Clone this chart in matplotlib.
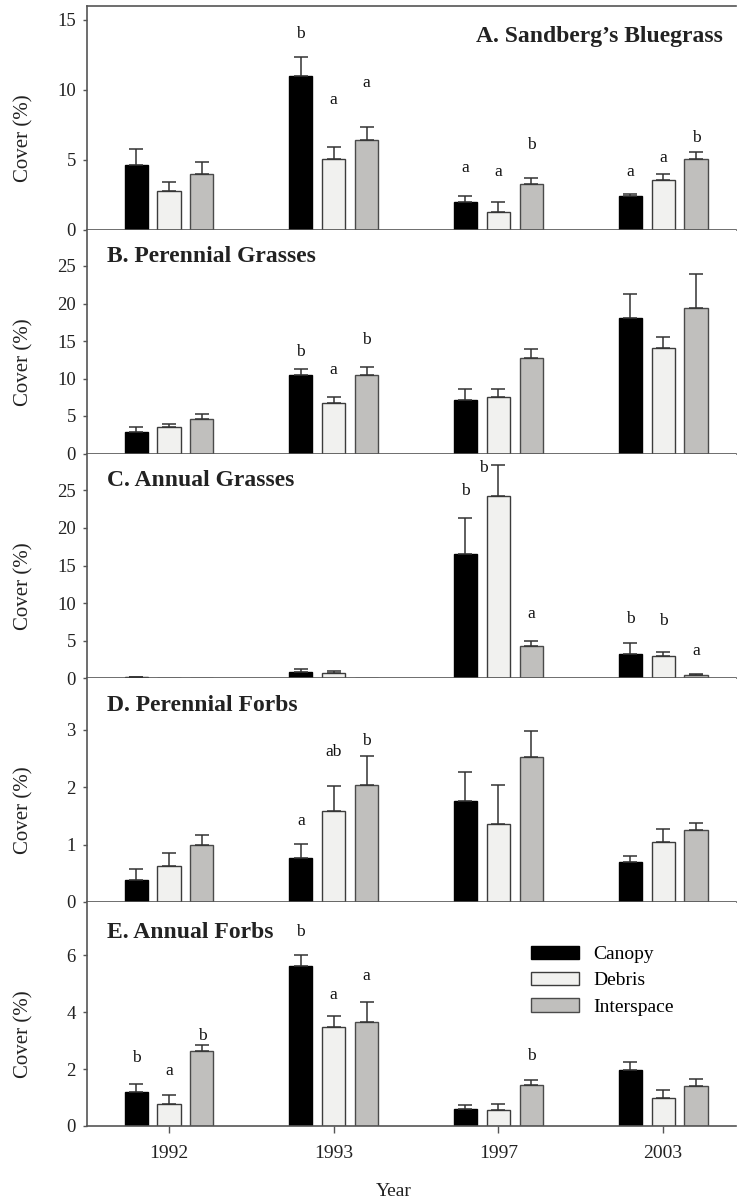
import numpy as np
import matplotlib.pyplot as plt
from matplotlib.patches import Patch

plt.rcParams['font.family'] = ['Liberation Serif', 'DejaVu Serif']

years = ['1992', '1993', '1997', '2003']
series = ['Canopy', 'Debris', 'Interspace']

# A. Sandberg's bluegrass (rows: canopy, debris, interspace)
sandberg_mean = [[4.65, 11.0, 2.02, 2.43],
                 [2.82, 5.08, 1.31, 3.57],
                 [3.98, 6.4, 3.26, 5.07]]
sandberg_se = [[1.15, 1.35, 0.38, 0.17],
               [0.58, 0.85, 0.67, 0.45],
               [0.9, 0.98, 0.43, 0.48]]
sandberg_letters = [(1, 0, 'b'), (1, 1, 'a'), (1, 2, 'a'),
                    (2, 0, 'a'), (2, 1, 'a'), (2, 2, 'b'),
                    (3, 0, 'a'), (3, 1, 'a'), (3, 2, 'b')]

# B. Perennial grasses
pgrass_mean = [[2.93, 10.53, 7.16, 18.04],
               [3.51, 6.67, 7.6, 14.04],
               [4.62, 10.53, 12.71, 19.38]]
pgrass_se = [[0.54, 0.8, 1.42, 3.29],
             [0.45, 0.93, 0.98, 1.56],
             [0.67, 0.94, 1.29, 4.58]]
pgrass_letters = [(1, 0, 'b'), (1, 1, 'a'), (1, 2, 'b')]

# C. Annual grasses
agrass_mean = [[0.18, 0.89, 16.55, 3.2],
               [0.0, 0.67, 24.29, 2.94],
               [0.0, 0.1, 4.27, 0.4]]
agrass_se = [[0.05, 0.31, 4.8, 1.47],
             [0.0, 0.35, 4.05, 0.57],
             [0.0, 0.0, 0.71, 0.13]]
agrass_letters = [(2, 0, 'b'), (2, 1, 'b'), (2, 2, 'a'),
                  (3, 0, 'b'), (3, 1, 'b'), (3, 2, 'a')]

# D. Perennial forbs
pforb_mean = [[0.38, 0.77, 1.76, 0.69],
              [0.63, 1.58, 1.36, 1.04],
              [1.0, 2.04, 2.52, 1.26]]
pforb_se = [[0.2, 0.24, 0.51, 0.11],
            [0.22, 0.44, 0.68, 0.24],
            [0.17, 0.51, 0.46, 0.11]]
pforb_letters = [(1, 0, 'a'), (1, 1, 'ab'), (1, 2, 'b')]

# E. Annual forbs
aforb_mean = [[1.2, 5.62, 0.59, 1.96],
              [0.78, 3.48, 0.55, 1.0],
              [2.64, 3.66, 1.45, 1.41]]
aforb_se = [[0.28, 0.38, 0.15, 0.29],
            [0.31, 0.38, 0.23, 0.28],
            [0.2, 0.69, 0.15, 0.24]]
aforb_letters = [(0, 0, 'b'), (0, 1, 'a'), (0, 2, 'b'),
                 (1, 0, 'b'), (1, 1, 'a'), (1, 2, 'a'),
                 (2, 2, 'b')]

# where the letters sit (data units) and small x nudges
sandberg_lab_y = [14.0, 9.3, 10.5, 4.43, 4.14, 6.07, 4.14, 5.14, 6.57]
pgrass_lab_y = [13.55, 11.1, 15.1]
agrass_lab_y = [24.9, 27.96, 8.58, 7.92, 7.56, 3.68]
agrass_lab_dx = [0, -0.09, 0, 0, 0, 0]
pforb_lab_y = [1.42, 2.61, 2.81]
aforb_lab_y = [2.39, 1.92, 3.15, 6.8, 4.59, 5.27, 2.45]

panels = [
    ("A. Sandberg\u2019s Bluegrass", sandberg_mean, sandberg_se, sandberg_letters,
     sandberg_lab_y, None, 16, [0, 5, 10, 15]),
    ("B. Perennial Grasses", pgrass_mean, pgrass_se, pgrass_letters,
     pgrass_lab_y, None, 29.8, [0, 5, 10, 15, 20, 25]),
    ("C. Annual Grasses", agrass_mean, agrass_se, agrass_letters,
     agrass_lab_y, agrass_lab_dx, 29.9, [0, 5, 10, 15, 20, 25]),
    ("D. Perennial Forbs", pforb_mean, pforb_se, pforb_letters,
     pforb_lab_y, None, 3.9, [0, 1, 2, 3]),
    ("E. Annual Forbs", aforb_mean, aforb_se, aforb_letters,
     aforb_lab_y, None, 7.87, [0, 2, 4, 6]),
]

fills = ['#000000', '#f1f1ef', '#c0bfbd']
edges = ['#000000', '#3c3c3c', '#4a4a4a']
axcol = '#555555'

W, H = 737, 1201
fig = plt.figure(figsize=(W / 100, H / 100), dpi=100)

# panel edges in pixels
left, right = 87, 736
edges_y = [6, 230, 453.5, 678.3, 902, 1126]

x = np.arange(len(years))
width = 0.14
offs = [-0.2, 0.0, 0.2]

axes = []
for i, (title, mean, se, letters, lab_y, lab_dx, ymax, yt) in enumerate(panels):
    top, bot = edges_y[i], edges_y[i + 1]
    ax = fig.add_axes([left / W, 1 - bot / H, (right - left) / W, (bot - top) / H])
    axes.append(ax)
    for s in range(3):
        m = np.array(mean[s])
        e = np.array(se[s])
        ax.bar(x + offs[s], m, width, color=fills[s], edgecolor=edges[s],
               linewidth=1.0, zorder=2)
        keep = e > 0
        ax.errorbar(x[keep] + offs[s], m[keep],
                    yerr=[np.zeros(keep.sum()), e[keep]], fmt='none',
                    ecolor='#333333', elinewidth=1.1, capsize=4.7,
                    capthick=1.1, zorder=3)
    for k, (g, s, txt) in enumerate(letters):
        dx = lab_dx[k] if lab_dx else 0
        ax.text(x[g] + offs[s] + dx, lab_y[k], txt, ha='center', va='center',
                fontsize=12.5, color='#111111')
    if i == 0:
        ax.text(0.98, 0.863, title, transform=ax.transAxes, ha='right',
                va='center', fontsize=17, fontweight='bold', color='#222222')
    else:
        ax.text(0.031, 0.88 if i < 4 else 0.862, title, transform=ax.transAxes,
                ha='left', va='center', fontsize=17, fontweight='bold',
                color='#222222')
    ax.set_xlim(-0.498, 3.443)
    ax.set_ylim(0, ymax)
    ax.set_yticks(yt)
    ax.tick_params(axis='y', direction='out', length=3, width=1, pad=5,
                   labelsize=13.5, colors='#222222')
    ax.tick_params(axis='y', color=axcol)
    ax.spines['right'].set_visible(False)
    if i > 0:
        ax.spines['top'].set_visible(False)
    for sp in ['left', 'bottom', 'top']:
        ax.spines[sp].set_color(axcol)
        ax.spines[sp].set_linewidth(1.2)
    ax.set_ylabel('Cover (%)', fontsize=15, color='#222222')
    ax.yaxis.set_label_coords(-0.083, 0.41)
    if i < 4:
        ax.set_xticks([])
    else:
        ax.set_xticks(x)
        ax.set_xticklabels(years)
        ax.tick_params(axis='x', direction='out', length=5, width=1,
                       color=axcol, pad=9, labelsize=14, labelcolor='#222222')

# legend in the last panel
handles = [Patch(facecolor=fills[s], edgecolor=edges[s], linewidth=1.0)
           for s in range(3)]
axes[-1].legend(handles, series, loc='upper left', bbox_to_anchor=(0.684, 0.805),
                frameon=False, fontsize=14, handlelength=2.45, handleheight=0.68,
                handletextpad=0.75, labelspacing=0.45, borderpad=0,
                borderaxespad=0)

fig.text(394 / W, 1 - 1191.7 / H, 'Year', ha='center', va='center',
         fontsize=14, color='#222222')

fig.savefig('out.png', dpi=100)
